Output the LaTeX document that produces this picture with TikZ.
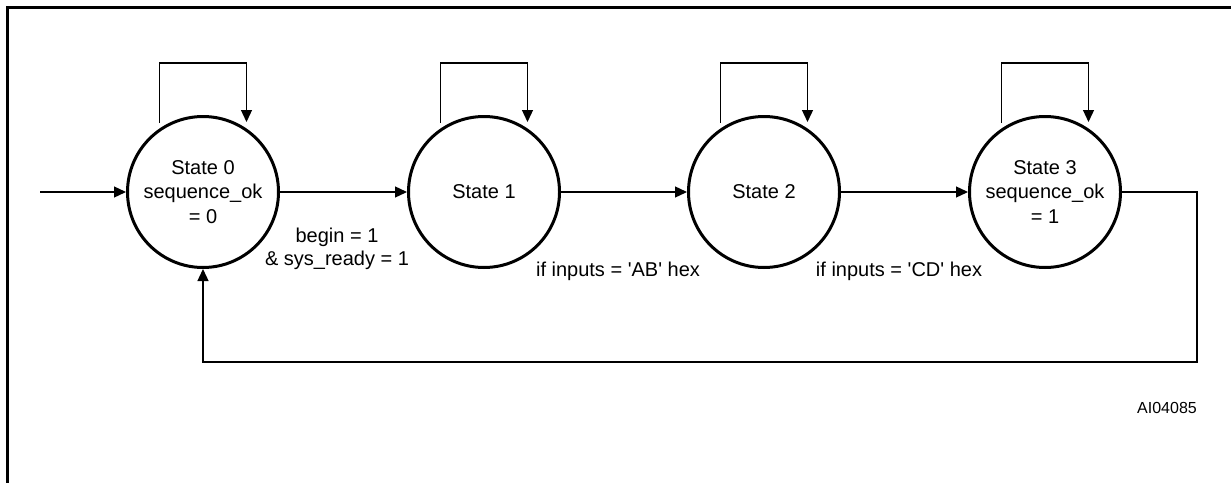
\documentclass[tikz,border=0pt]{standalone}
\usepackage{fontspec}
\setmainfont{Liberation Sans}
\usetikzlibrary{arrows.meta,calc}
\begin{document}
\begin{tikzpicture}[x=0.5pt,y=-0.5pt,
  state/.style={circle,draw,line width=1.5pt,minimum size=75.5pt,inner sep=0pt,align=center,font=\fontsize{10}{12.25}\selectfont},
  conn/.style={line width=0.65pt,-{Triangle[length=6pt,width=5.5pt]}},
  plain/.style={line width=0.65pt},
  lbl/.style={align=center,inner sep=0pt,font=\fontsize{10}{11.75}\selectfont},
  frameline/.style={line width=1.5pt}]
\useasboundingbox (0,0) rectangle (1231,482);
% frame
\coordinate (fA) at (7,490);
\coordinate (fB) at (7,7);
\coordinate (fC) at (1240,7);
\draw[frameline] (fA) -- (fB) -- (fC);
% states
\node[state] (s0) at (203,192) {State 0\\sequence\_ok\\= 0};
\node[state] (s1) at (484,192) {State 1};
\node[state] (s2) at (764,192) {State 2};
\node[state] (s3) at (1045,192) {State 3\\sequence\_ok\\= 1};
% self loops
\foreach \s in {s0,s1,s2,s3}{
  \coordinate (\s a) at ($(\s.center)+(-43.5,-69)$);
  \coordinate (\s b) at ($(\s.center)+(-43.5,-129)$);
  \coordinate (\s c) at ($(\s.center)+(43.5,-129)$);
  \coordinate (\s d) at ($(\s.center)+(43.5,-70)$);
  \draw[conn] (\s a) -- (\s b) -- (\s c) -- (\s d);
}
% entry
\coordinate (in) at (40,192);
\draw[conn] (in) -- (s0.west);
% transitions
\draw[conn] (s0.east) -- (s1.west);
\draw[conn] (s1.east) -- (s2.west);
\draw[conn] (s2.east) -- (s3.west);
% return
\coordinate (r1) at (1197,192);
\coordinate (r2) at (1197,362);
\coordinate (r3) at (203,362);
\draw[conn] (s3.east) -- (r1) -- (r2) -- (r3) -- (s0.south);
% labels
\node[lbl] (l1) at (337,249) {begin = 1\\\& sys\_ready = 1};
\node[lbl] (l2) at (618,271) {if inputs = \textquotesingle AB\textquotesingle{} hex};
\node[lbl] (l3) at (899,271) {if inputs = \textquotesingle CD\textquotesingle{} hex};
\node[inner sep=0pt,font=\fontsize{8}{9.6}\selectfont] (id) at (1167,408) {AI04085};
\end{tikzpicture}
\end{document}
